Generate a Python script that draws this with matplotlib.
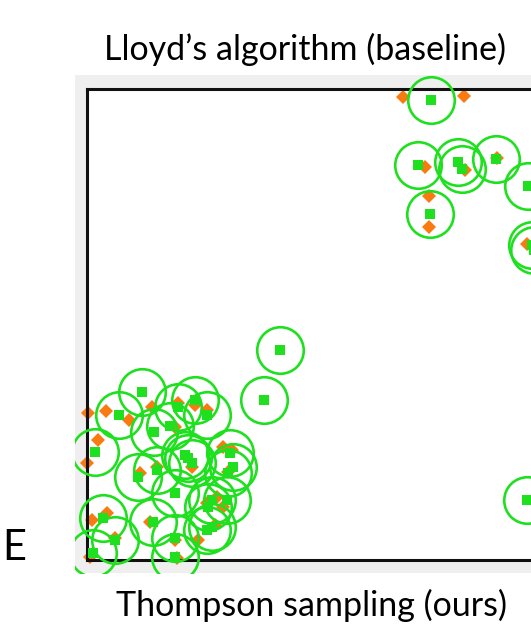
import numpy as np
import matplotlib.pyplot as plt

# ---------------- DATA (pixel-like units inside the panel) ----------------
# cluster centres found by the method (green squares + circles)
center_x = [431, 418, 458, 462, 496, 528, 430, 532, 534, 527,
            280, 264, 142, 119, 95, 154, 170, 178, 195, 207,
            188, 192, 185, 138, 157, 175, 230, 233, 228, 212,
            208, 227, 207, 212, 103, 115, 153, 175, 93, 175]
center_y = [100, 165, 162, 169, 159, 186, 214, 245, 250, 500,
            350, 400, 392, 415, 452, 432, 426, 407, 400, 415,
            458, 463, 455, 477, 470, 493, 453, 467, 473, 500,
            507, 500, 530, 527, 518, 540, 522, 538, 553, 557]

# ground-truth points (orange diamonds)
truth_x = [403, 464, 425, 465, 497, 429, 429, 527,
           88, 106, 129, 98, 87, 152, 178, 195, 207, 175,
           192, 140, 157, 223, 232, 228, 207, 223, 217, 215,
           92, 107, 115, 150, 175, 198, 90, 177]
truth_y = [97, 96, 167, 170, 158, 196, 227, 244,
           413, 411, 420, 440, 463, 407, 403, 405, 410, 427,
           467, 473, 467, 447, 450, 472, 503, 507, 497, 525,
           520, 513, 538, 522, 540, 540, 557, 558]

title_top = "Lloyd’s algorithm (baseline)"
title_bottom = "Thompson sampling (ours)"
row_label = "E"

GREEN = '#1fe01f'
ORANGE = '#f97a10'
W, H = 531, 624
# ---------------------------------------

plt.rcParams['font.family'] = ['Lato', 'DejaVu Sans']

fig = plt.figure(figsize=(W / 100, H / 100), dpi=100)

# grey panel behind the plot box
panel = fig.add_axes([75 / W, (H - 573) / H, 500 / W, (573 - 75) / H])
panel.set_facecolor('#efefef')
panel.set_xticks([]); panel.set_yticks([])
for s in panel.spines.values():
    s.set_visible(False)

# white plot box with black frame
ax = fig.add_axes([87 / W, (H - 560) / H, (560 - 87) / W, (560 - 89) / H])
ax.set_xlim(87, 560)
ax.set_ylim(560, 89)
ax.set_xticks([]); ax.set_yticks([])
for s in ax.spines.values():
    s.set_linewidth(2.2)
    s.set_color('#111111')

d = ax.plot(truth_x, truth_y, 'D', color=ORANGE, markersize=7,
            markeredgewidth=0, zorder=2)[0]
c = ax.plot(center_x, center_y, 'o', markerfacecolor='none',
            markeredgecolor=GREEN, markersize=33.5, markeredgewidth=1.9,
            zorder=3)[0]
q = ax.plot(center_x, center_y, 's', color=GREEN, markersize=6.5,
            markeredgewidth=0, zorder=4)[0]
for art in (d, c, q):
    art.set_clip_path(panel.patch)

# texts
fig.text(305 / W, 1 - 60 / H, title_top, ha='center', va='baseline',
         fontsize=24.5, color='black')
fig.text(311 / W, 1 - 616 / H, title_bottom, ha='center', va='baseline',
         fontsize=24.5, color='black')
fig.text(26 / W, 1 - 560 / H, row_label, ha='right', va='baseline',
         fontsize=30, color='black')

plt.savefig("out.png", dpi=100)
